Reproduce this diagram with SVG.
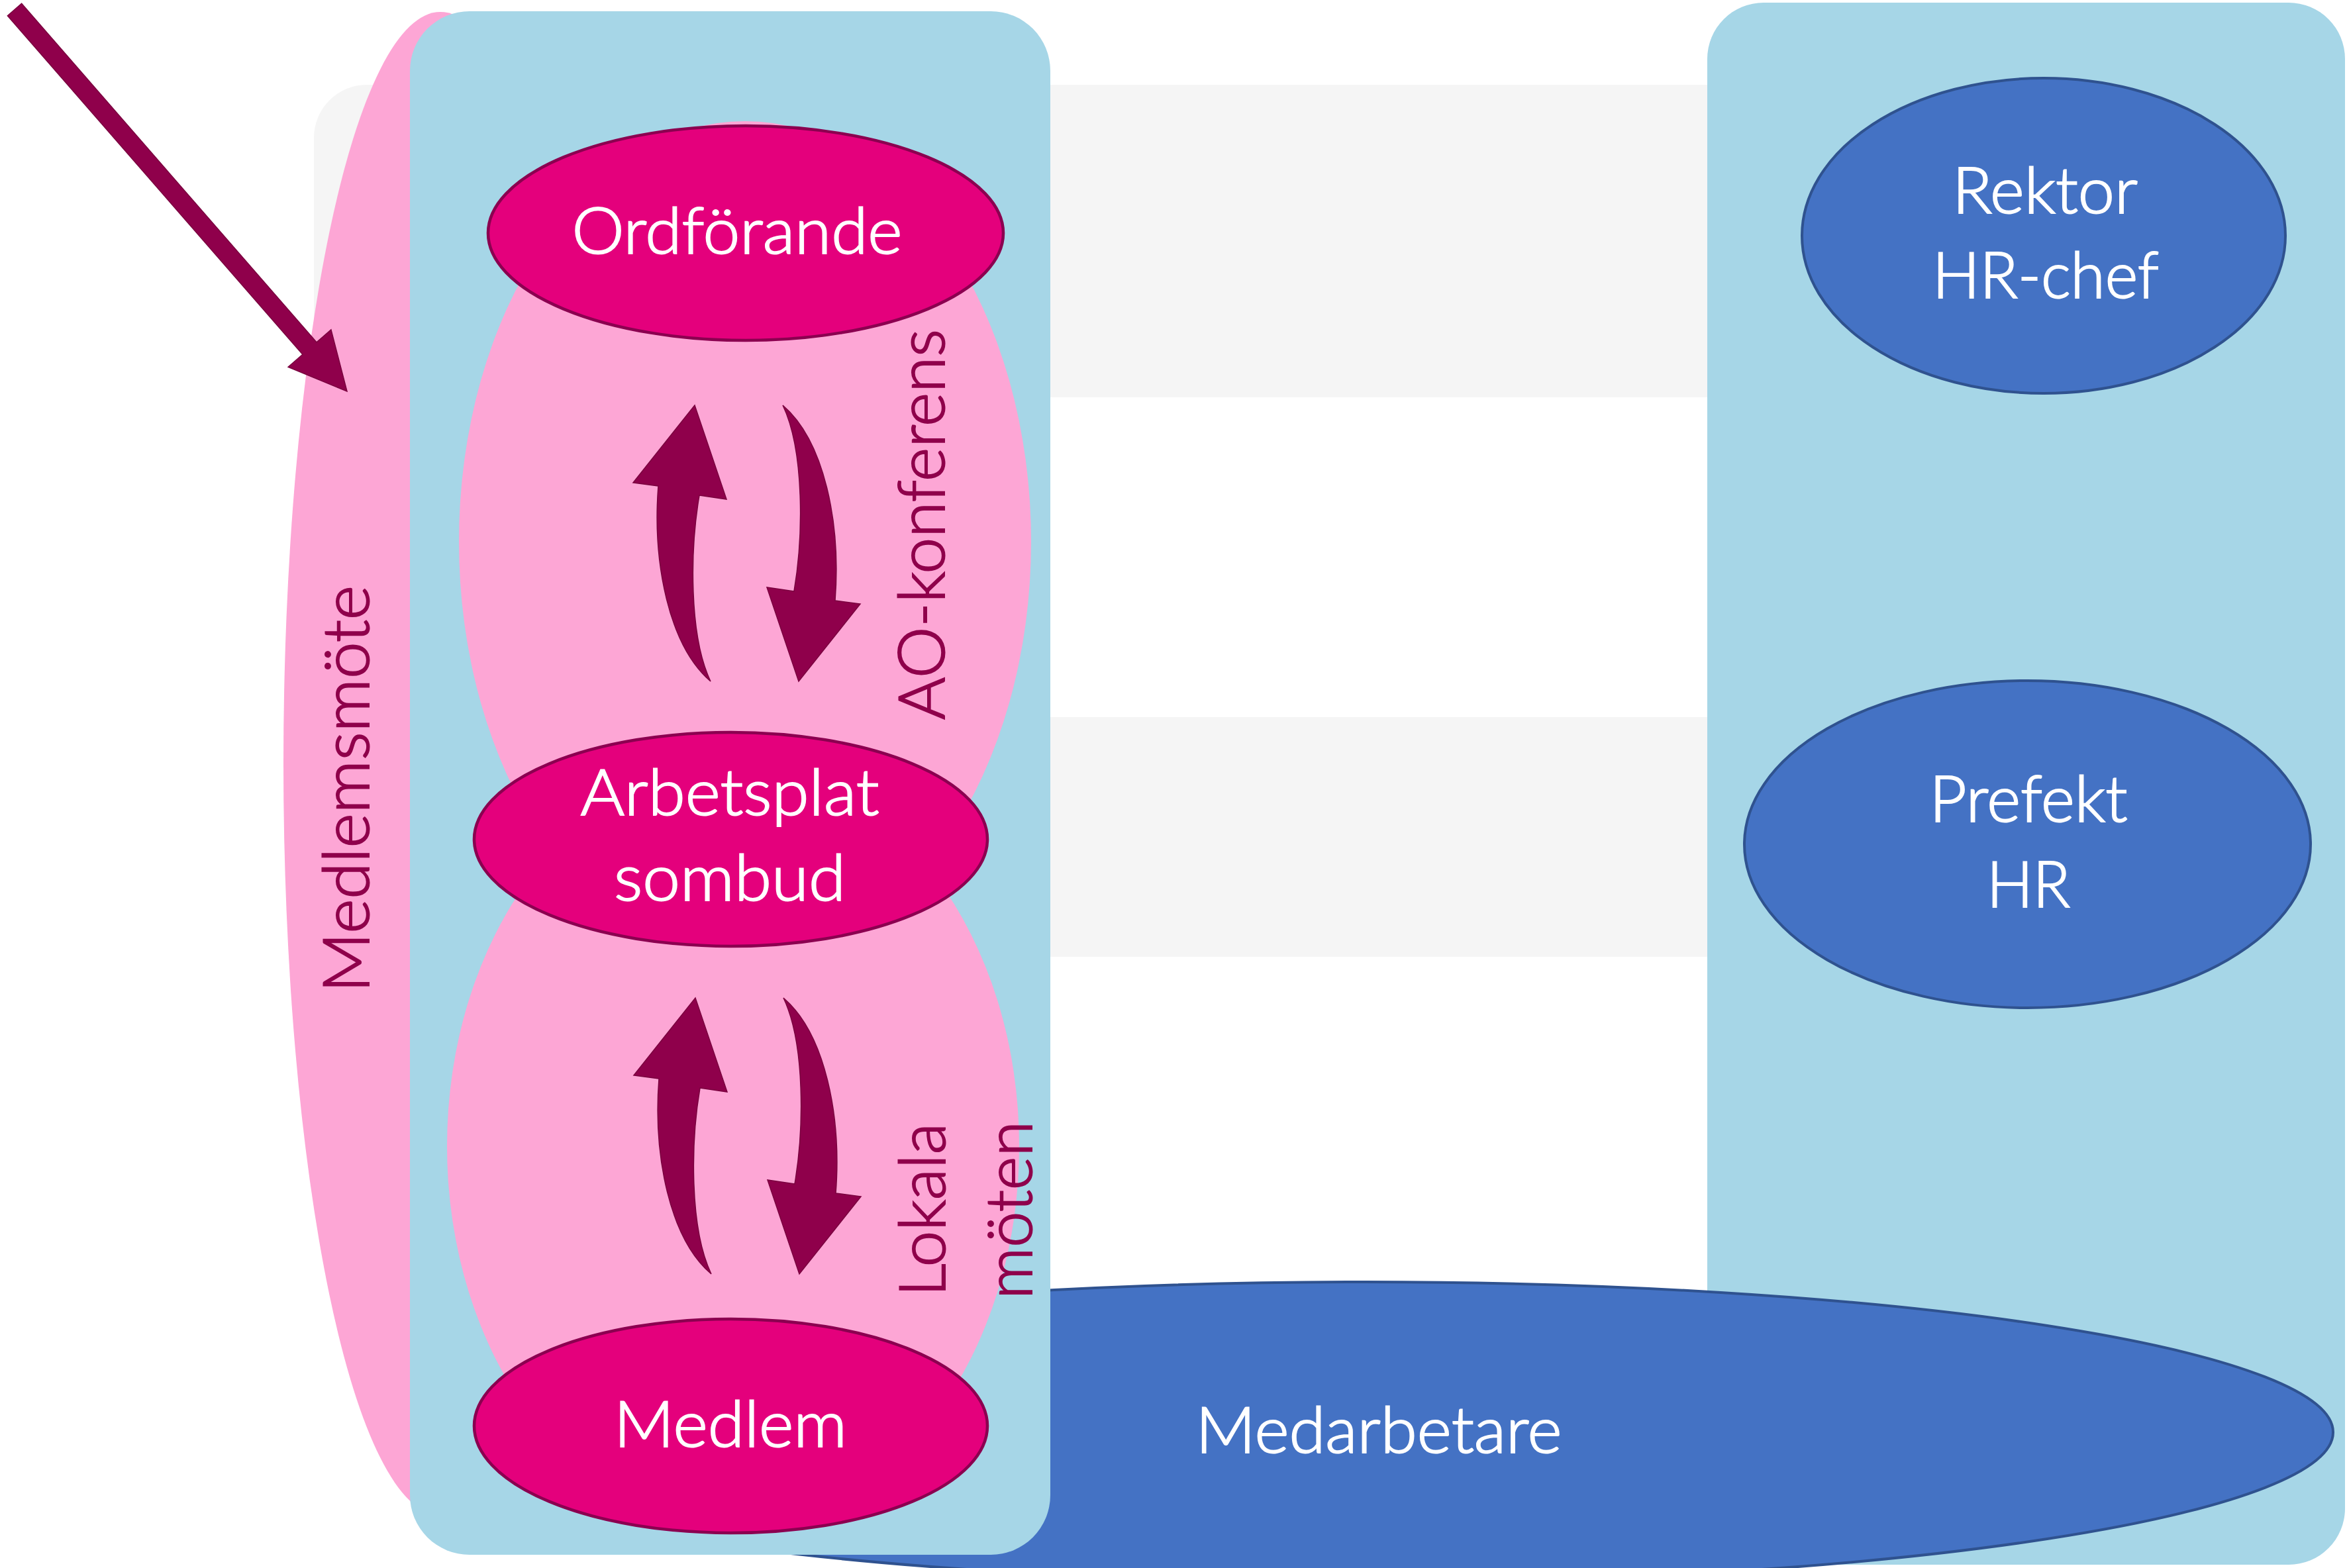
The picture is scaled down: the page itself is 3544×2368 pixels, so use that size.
<svg xmlns="http://www.w3.org/2000/svg" width="3544" height="2368" viewBox="0 0 3544 2368">
<defs>
<style>
.band{fill:#f5f5f5}
.panel{fill:#a6d6e7}
.pinkbg{fill:#fda6d5}
.mnode{fill:#e4007c;stroke:#8b0050;stroke-width:4.5}
.bnode{fill:#4472c4;stroke:#2f528f;stroke-width:4}
.arrow{fill:#8f004b;stroke:#7a003f;stroke-width:1.5}
.wt{font-family:Lato,"Liberation Sans",sans-serif;font-weight:300;font-size:96px;fill:#ffffff;stroke:#ffffff;stroke-width:2;text-anchor:middle}
.vt{font-family:Lato,"Liberation Sans",sans-serif;font-weight:300;font-size:96px;fill:#8f004b;stroke:#8f004b;stroke-width:2;text-anchor:start}
</style>
<path id="curvedArrow" d="M1049,612 L1097,754 L1056,748 C1042,830 1040,960 1073,1029 C1010,975 985,850 994,734 L956,729 Z"/>
</defs>
<rect x="0" y="0" width="3544" height="2368" fill="#ffffff"/>
<g id="background">
<path class="band" d="M474,208 A80,80 0 0 1 554,128 L2600,128 L2600,600 L474,600 Z"/>
<rect class="band" x="1500" y="1083" width="1100" height="362"/>
</g>
<g id="panel-right">
<rect class="panel" x="2578" y="4" width="963" height="2359" rx="85" ry="85"/>
</g>
<g id="node-medarbetare">
<ellipse class="bnode" cx="2060" cy="2163" rx="1463" ry="227"/>
<text class="wt" x="2082" y="2194" textLength="553" lengthAdjust="spacingAndGlyphs">Medarbetare</text>
</g>
<g id="group-medlemsmote">
<ellipse class="pinkbg" cx="665" cy="1153" rx="237" ry="1135"/>
</g>
<g id="panel-left">
<rect class="panel" x="619" y="17" width="967" height="2331" rx="90" ry="90"/>
</g>
<g id="group-ao-konferens">
<ellipse class="pinkbg" cx="1125" cy="818" rx="432" ry="635"/>
</g>
<g id="group-lokala-moten">
<ellipse class="pinkbg" cx="1107" cy="1731" rx="432" ry="576"/>
</g>
<g id="node-ordforande">
<ellipse class="mnode" cx="1126" cy="352" rx="389" ry="162"/>
<text class="wt" x="1113" y="383" textLength="499" lengthAdjust="spacingAndGlyphs">Ordförande</text>
</g>
<g id="node-arbetsplatsombud">
<ellipse class="mnode" cx="1103.5" cy="1267.5" rx="387.5" ry="161.5"/>
<text class="wt" x="1102" y="1231" textLength="451" lengthAdjust="spacingAndGlyphs">Arbetsplat</text>
<text class="wt" x="1102" y="1360" textLength="350" lengthAdjust="spacingAndGlyphs">sombud</text>
</g>
<g id="node-medlem">
<ellipse class="mnode" cx="1103.5" cy="2153.5" rx="387.5" ry="161.5"/>
<text class="wt" x="1103" y="2185" textLength="352" lengthAdjust="spacingAndGlyphs">Medlem</text>
</g>
<g id="node-rektor">
<ellipse class="bnode" cx="3086" cy="356" rx="365" ry="238"/>
<text class="wt" x="3088" y="322" textLength="280" lengthAdjust="spacingAndGlyphs">Rektor</text>
<text class="wt" x="3089" y="450" textLength="342" lengthAdjust="spacingAndGlyphs">HR-chef</text>
</g>
<g id="node-prefekt">
<ellipse class="bnode" cx="3061.5" cy="1275" rx="427.5" ry="247"/>
<text class="wt" x="3063" y="1241" textLength="299" lengthAdjust="spacingAndGlyphs">Prefekt</text>
<text class="wt" x="3063" y="1370" textLength="126" lengthAdjust="spacingAndGlyphs">HR</text>
</g>
<g id="connectors">
<polygon class="arrow" points="32.6,5.3 478.1,516.9 499.9,497.9 524,591 435.1,554.3 456.9,535.3 11.4,23.7"/>
<use href="#curvedArrow" class="arrow"/>
<use href="#curvedArrow" class="arrow" transform="rotate(180 1127.5 820.5)"/>
<use href="#curvedArrow" class="arrow" transform="translate(1 895)"/>
<use href="#curvedArrow" class="arrow" transform="translate(1 895) rotate(180 1127.5 820.5)"/>
</g>
<g id="labels">
<text class="vt" transform="translate(557 1499) rotate(-90)" textLength="615" lengthAdjust="spacingAndGlyphs">Medlemsmöte</text>
<text class="vt" transform="translate(1426 1087) rotate(-90)" textLength="590" lengthAdjust="spacingAndGlyphs">AO-konferens</text>
<text class="vt" transform="translate(1427 1958) rotate(-90)" textLength="262" lengthAdjust="spacingAndGlyphs">Lokala</text>
<text class="vt" transform="translate(1558 1962) rotate(-90)" textLength="269" lengthAdjust="spacingAndGlyphs">möten</text>
</g>
</svg>
